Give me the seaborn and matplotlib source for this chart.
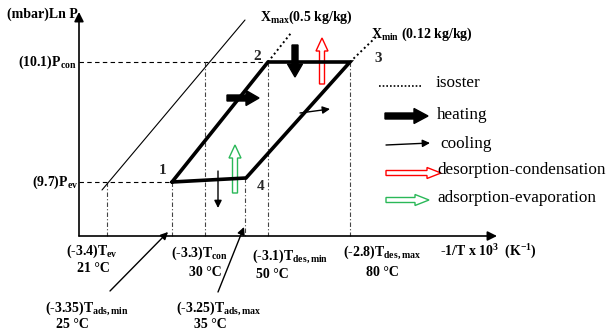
import matplotlib
matplotlib.use("Agg")
import matplotlib.pyplot as plt
import matplotlib.patches as mpatches
import seaborn as sns
import pandas as pd

# schematic positions of the Clapeyron diagram (diagram units, y grows downward)
cycle_pts = ["1", "2", "3", "4", "1"]
cycle_x = [172, 268, 350, 246, 172]
cycle_y = [182, 62, 62, 178, 182]

p_levels = [62, 182]
p_labels = [r"(10.1)P$_\mathrm{con}$", r"(9.7)P$_\mathrm{ev}$"]

temp_x = [107, 172, 205, 245, 268, 350]
temp_top = [182, 182, 62, 178, 62, 62]

# thin reference isoster and dotted isoster extensions
iso_thin_x = [102, 245]
iso_thin_y = [190, 20]
iso_max_x = [268, 291]
iso_max_y = [62, 33]
iso_min_x = [350, 376]
iso_min_y = [62, 37]

sns.set_style("white")
plt.rcParams["font.family"] = ["Liberation Serif", "DejaVu Serif"]
plt.rcParams["mathtext.fontset"] = "custom"
plt.rcParams["mathtext.rm"] = "Liberation Serif:bold"
plt.rcParams["mathtext.it"] = "Liberation Serif:bold"
plt.rcParams["mathtext.bf"] = "Liberation Serif:bold"

fig = plt.figure(figsize=(6.07, 3.36), dpi=100)
ax = fig.add_axes([0, 0, 1, 1])

# axes with arrow heads
ax.annotate("", xy=(497, 236), xytext=(79, 236),
            arrowprops=dict(arrowstyle="-|>", lw=1.2, color="black", mutation_scale=14,
                            shrinkA=0, shrinkB=0))
ax.annotate("", xy=(79, 12), xytext=(79, 236),
            arrowprops=dict(arrowstyle="-|>", lw=1.2, color="black", mutation_scale=14,
                            shrinkA=0, shrinkB=0))

# pressure levels
ax.plot([79, 268], [p_levels[0]] * 2, color="black", lw=0.8, ls=(0, (4, 3)))
ax.plot([79, 172], [p_levels[1]] * 2, color="black", lw=0.8, ls=(0, (4, 3)))

# temperature verticals
for tx, ty in zip(temp_x, temp_top):
    ax.plot([tx, tx], [ty, 236], color="#444444", lw=0.8, ls=(0, (4, 2, 1, 2)))

ax.plot(iso_thin_x, iso_thin_y, color="black", lw=0.8)
ax.plot(iso_max_x, iso_max_y, color="black", lw=1.4, ls=(0, (1, 1.5)))
ax.plot(iso_min_x, iso_min_y, color="black", lw=1.4, ls=(0, (1, 1.5)))

cyc = pd.DataFrame({"x": cycle_x, "y": cycle_y})
sns.lineplot(data=cyc, x="x", y="y", sort=False, estimator=None, color="black",
             lw=2.6, ax=ax, solid_joinstyle="miter")
ax.set_xlim(0, 607)
ax.set_ylim(336, 0)
ax.axis("off")


def block_arrow(x0, y0, x1, y1, fc, ec, w=5, hw=13, hl=12, lw=1.0):
    ax.add_patch(mpatches.FancyArrow(x0, y0, x1 - x0, y1 - y0, width=w,
                                     head_width=hw, head_length=hl,
                                     length_includes_head=True, fc=fc, ec=ec, lw=lw))


def thin_arrow(x0, y0, x1, y1):
    ax.annotate("", xy=(x1, y1), xytext=(x0, y0),
                arrowprops=dict(arrowstyle="-|>", lw=1.0, color="black", mutation_scale=11,
                                shrinkA=0, shrinkB=0))


# process arrows on the cycle
block_arrow(227, 98, 259, 98, "black", "black", w=6, hw=15, hl=13)
block_arrow(295, 45, 295, 77, "black", "black", w=6, hw=15, hl=13)
block_arrow(322, 84, 322, 38, "white", "red", w=5, hw=12, hl=13)
block_arrow(235, 193, 235, 145, "white", "#2ab858", w=5, hw=12, hl=13)
thin_arrow(300, 113, 330, 109)
thin_arrow(218, 171, 218, 208)

# legend
ax.plot([379, 421], [86, 86], color="black", lw=1.2, ls=(0, (1, 1.2)))
block_arrow(385, 116, 428, 116, "black", "black", w=6, hw=15, hl=14)
thin_arrow(386, 145, 430, 143)
block_arrow(386, 173, 441, 173, "white", "red", w=5, hw=11, hl=14)
block_arrow(386, 200, 429, 200, "white", "#2ab858", w=5, hw=11, hl=14)
leg_kw = dict(fontsize=12.3, ha="left", va="center", color="black")
ax.text(436, 83, "isoster", **leg_kw)
ax.text(437, 115, "heating", **leg_kw)
ax.text(440, 144, "cooling", **leg_kw)
ax.text(437, 170, "desorption-condensation", **leg_kw)
ax.text(437, 198, "adsorption-evaporation", **leg_kw)

bold = dict(fontsize=10, fontweight="bold", color="black")
ax.text(7, 14, "(mbar)Ln P", ha="left", va="center", **bold)
ax.text(77, 62, p_labels[0], ha="right", va="center", **bold)
ax.text(78, 182, p_labels[1], ha="right", va="center", **bold)
ax.text(260, 17, r"X$_\mathrm{max}$(0.5 kg/kg)", ha="left", va="center", **bold)
ax.text(371, 34, r"X$_\mathrm{min}$ (0.12 kg/kg)", ha="left", va="center", **bold)

num = dict(fontsize=11, fontweight="bold", ha="center", va="center")
ax.text(257, 57, cycle_pts[1], **num)
ax.text(378, 58, cycle_pts[2], **num)
ax.text(163, 171, cycle_pts[0], **num)
ax.text(261, 186, cycle_pts[3], **num)

# temperature labels
ax.text(92, 251, r"(-3.4)T$_\mathrm{ev}$", ha="center", va="center", **bold)
ax.text(93, 268, "21 °C", ha="center", va="center", **bold)
ax.text(200, 253, r"(-3.3)T$_\mathrm{con}$", ha="center", va="center", **bold)
ax.text(205, 272, "30 °C", ha="center", va="center", **bold)
ax.text(290, 256, r"(-3.1)T$_\mathrm{des,min}$", ha="center", va="center", **bold)
ax.text(272, 275, "50 °C", ha="center", va="center", **bold)
ax.text(382, 252, r"(-2.8)T$_\mathrm{des,max}$", ha="center", va="center", **bold)
ax.text(382, 273, "80 °C", ha="center", va="center", **bold)
ax.text(440, 252, r"-1/T x 10$^3$  (K$^\mathrm{-1}$)", ha="left", va="center", **bold)
ax.text(87, 308, r"(-3.35)T$_\mathrm{ads,min}$", ha="center", va="center", **bold)
ax.text(72, 325, "25 °C", ha="center", va="center", **bold)
ax.text(219, 308, r"(-3.25)T$_\mathrm{ads,max}$", ha="center", va="center", **bold)
ax.text(210, 325, "35 °C", ha="center", va="center", **bold)

thin_arrow(110, 291, 168, 232)
thin_arrow(218, 292, 244, 227)

fig.savefig("out.png", dpi=100)
